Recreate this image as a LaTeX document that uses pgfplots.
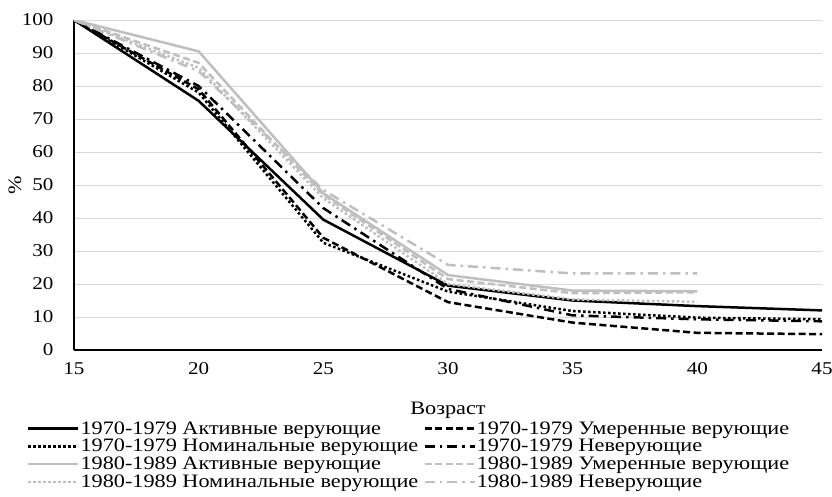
\documentclass[border=0pt]{standalone}
\usepackage{fontspec}
\setmainfont{Liberation Serif}[FakeStretch=1.17]
\usepackage{pgfplots}
\usetikzlibrary{calc}
\pgfplotsset{compat=1.18}
\definecolor{lg}{RGB}{191,191,191}
\definecolor{gridc}{RGB}{217,217,217}
\begin{document}
\begin{tikzpicture}
\begin{axis}[
  scale only axis,
  width=748pt, height=330pt,
  xmin=15, xmax=45, ymin=0, ymax=100,
  xtick={15,20,25,30,35,40,45},
  ytick={0,10,...,100},
  /pgf/number format/assume math mode=true,
  axis x line=bottom, axis y line=left,
  axis line style={-, line width=1.2pt, black},
  major tick length=0pt,
  ymajorgrids, grid style={gridc, line width=1pt},
  tick label style={font=\fontsize{18}{20}\selectfont},
  yticklabel style={xshift=-17pt},
  xticklabel style={yshift=-9pt},
  every axis y label/.style={at={(-0.079,0.5)}, rotate=90, anchor=center, font=\fontsize{19}{21}\selectfont},
  every axis x label/.style={at={(0.5,-0.182)}, anchor=center, font=\fontsize{19}{21}\selectfont},
  xlabel={Возраст}, ylabel={\%},
  legend columns=2,
  legend cell align=left,
  legend style={at={(-0.063,-0.216)}, anchor=north west, draw=none, fill=none,
    font=\fontsize{19}{20}\selectfont, row sep=3.6pt, inner sep=0pt,
    nodes={inner xsep=1pt, inner ysep=0pt},
    /tikz/every odd column/.style={column sep=0pt},
    /tikz/column 2/.style={column sep=4pt},
    /tikz/column 4/.style={column sep=0pt}},
  legend image code/.code={\draw[#1] plot coordinates {(0pt,0pt) (50pt,0pt)};},
  every axis plot/.append style={line width=2.5pt},
]
\addplot[black] coordinates {(15,100)(20,75.5)(25,39.5)(30,19.5)(35,15)(40,13.3)(45,12)};
\addlegendentry{1970-1979 Активные верующие}
\addplot[black, dash pattern=on 7pt off 3.5pt] coordinates {(15,100)(20,79)(25,34)(30,14.5)(35,8.3)(40,5.2)(45,4.8)};
\addlegendentry{1970-1979 Умеренные верующие}
\addplot[black, dash pattern=on 2.5pt off 2.5pt] coordinates {(15,100)(20,78)(25,32.5)(30,17.7)(35,11.8)(40,9.8)(45,9.3)};
\addlegendentry{1970-1979 Номинальные верующие}
\addplot[black, dash pattern=on 10pt off 5pt on 2.5pt off 5pt] coordinates {(15,100)(20,80)(25,43)(30,18.5)(35,10.5)(40,9.3)(45,8.7)};
\addlegendentry{1970-1979 Неверующие}
\addplot[lg] coordinates {(15,100)(20,90.5)(25,47.5)(30,22.7)(35,18)(40,17.8)};
\addlegendentry{1980-1989 Активные верующие}
\addplot[lg, dash pattern=on 7pt off 3.5pt] coordinates {(15,100)(20,87)(25,47)(30,21.5)(35,17.2)(40,17.5)};
\addlegendentry{1980-1989 Умеренные верующие}
\addplot[lg, dash pattern=on 2.5pt off 2.5pt] coordinates {(15,100)(20,85.5)(25,46)(30,20)(35,15.3)(40,14.6)};
\addlegendentry{1980-1989 Номинальные верующие}
\addplot[lg, dash pattern=on 10pt off 5pt on 2.5pt off 5pt] coordinates {(15,100)(20,84.5)(25,48.5)(30,25.8)(35,23.2)(40,23.2)};
\addlegendentry{1980-1989 Неверующие}
\coordinate (O) at (rel axis cs:0,0);
\end{axis}
\pgfresetboundingbox
\path[use as bounding box] ($(O)+(-74pt,-146pt)$) rectangle ($(O)+(758pt,350pt)$);
\end{tikzpicture}
\end{document}
